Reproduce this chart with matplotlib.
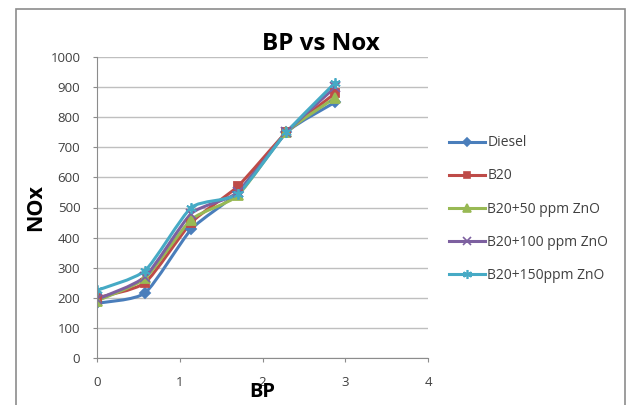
import matplotlib
matplotlib.use("Agg")
import matplotlib.pyplot as plt
from matplotlib.patches import Rectangle, PathPatch
from matplotlib.path import Path
from matplotlib.lines import Line2D

bp = [0.0, 0.58, 1.14, 1.70, 2.29, 2.88]
diesel = [182, 216, 428, 550, 750, 850]
b20 = [200, 250, 450, 570, 750, 880]
b20_50 = [190, 265, 460, 540, 750, 865]
b20_100 = [195, 270, 480, 550, 750, 900]
b20_150 = [225, 290, 500, 545, 750, 915]
series_names = ["Diesel", "B20", "B20+50 ppm ZnO", "B20+100 ppm ZnO", "B20+150ppm ZnO"]
x_ticks = [0, 1, 2, 3, 4]
y_ticks = [0, 100, 200, 300, 400, 500, 600, 700, 800, 900, 1000]

colors = ["#4A7EBB", "#BE4B48", "#98B954", "#7D60A0", "#46AAC5"]
markers = ["D", "s", "^", "x", (6, 2, 0)]
msizes = [5.5, 6, 6.5, 6.5, 7.5]

plt.rcParams['font.family'] = ['Open Sans', 'DejaVu Sans']


def smooth_path(xs, ys, k=0.1):
    verts = [(xs[0], ys[0])]
    codes = [Path.MOVETO]
    n = len(xs)
    for i in range(n - 1):
        x0, y0 = (xs[i - 1], ys[i - 1]) if i > 0 else (xs[i], ys[i])
        x1, y1 = xs[i], ys[i]
        x2, y2 = xs[i + 1], ys[i + 1]
        x3, y3 = (xs[i + 2], ys[i + 2]) if i + 2 < n else (xs[i + 1], ys[i + 1])
        c1 = (x1 + (x2 - x0) * k, y1 + (y2 - y0) * k)
        c2 = (x2 - (x3 - x1) * k, y2 - (y3 - y1) * k)
        verts += [c1, c2, (x2, y2)]
        codes += [Path.CURVE4] * 3
    return Path(verts, codes)


fig = plt.figure(figsize=(6.28, 4.05), dpi=100)
fig.patches.append(Rectangle((16/628, -0.01), (625-16)/628, (405-9)/405 + 0.01,
                             transform=fig.transFigure, fill=False,
                             edgecolor="#8C8C8C", linewidth=1.2))

ax = fig.add_axes([97/628, 47/405, 331/628, 301/405])
handles = []
for ys, name, c, m, ms in zip([diesel, b20, b20_50, b20_100, b20_150],
                              series_names, colors, markers, msizes):
    ax.add_patch(PathPatch(smooth_path(bp, ys), facecolor="none", edgecolor=c,
                           linewidth=2.2, capstyle="round", joinstyle="round"))
    ax.plot(bp, ys, linestyle="none", color=c, marker=m, markersize=ms,
            markeredgewidth=1.3)
    handles.append(Line2D([], [], color=c, marker=m, markersize=ms - 1,
                          linewidth=2.2, markeredgewidth=1.2, label=name))

ax.set_xlim(0, 4)
ax.set_ylim(0, 1000)
ax.set_xticks(x_ticks)
ax.set_yticks(y_ticks)
ax.grid(axis='y', color="#BFBFBF", linewidth=1)
ax.set_axisbelow(True)
for s in ["top", "right"]:
    ax.spines[s].set_visible(False)
for s in ["left", "bottom"]:
    ax.spines[s].set_color("#8C8C8C")
ax.tick_params(axis='both', colors="#8C8C8C", labelcolor="#404040", labelsize=9.5, length=3)
ax.tick_params(axis='x', pad=10)
ax.tick_params(axis='y', pad=9)

fig.text(321/628, 1 - 44/405, "BP vs Nox", ha="center", va="center",
         fontsize=17.5, fontweight="bold", color="#000000")
fig.text(36/628, 1 - 208/405, "NOx", ha="center", va="center", rotation=90,
         fontsize=15.5, fontweight="bold")
fig.text(262/628, 1 - 392/405, "BP", ha="center", va="center",
         fontsize=14.5, fontweight="bold")

leg = ax.legend(handles=handles, loc="center left", bbox_to_anchor=(436/628, 1 - 209/405),
                bbox_transform=fig.transFigure, frameon=False, fontsize=10,
                handlelength=2.6, labelspacing=1.3, handletextpad=0.2)
for t in leg.get_texts():
    t.set_color("#404040")

fig.savefig("out.png", dpi=100)
